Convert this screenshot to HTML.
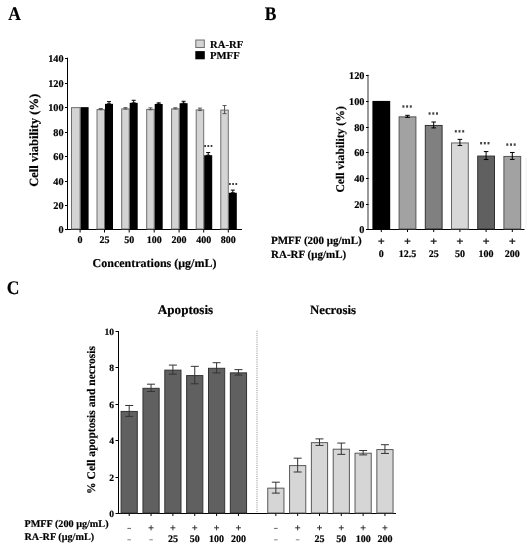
<!DOCTYPE html>
<html><head><meta charset="utf-8"><style>
html,body{margin:0;padding:0;background:#fff;}
body{width:531px;height:550px;overflow:hidden;}
svg{display:block;font-family:"Liberation Serif", serif;text-rendering:geometricPrecision;}
text{stroke:#000;stroke-width:0.18px;}
</style></head><body>
<svg width="531" height="550" viewBox="0 0 531 550">
<defs><filter id="bl" filterUnits="userSpaceOnUse" x="0" y="0" width="531" height="550"><feGaussianBlur stdDeviation="0.3"/></filter></defs>
<rect width="531" height="550" fill="#fff"/>
<g filter="url(#bl)">
<text transform="translate(8.2 19.9) scale(1 1.1)" font-size="17.5" font-weight="bold">A</text>
<text transform="translate(264.8 19.9) scale(1 1.1)" font-size="17.5" font-weight="bold">B</text>
<text transform="translate(6.8 294.2) scale(1 1.1)" font-size="17.5" font-weight="bold">C</text>
<line x1="67.5" y1="57.696" x2="67.5" y2="230.0" stroke="#000" stroke-width="1"/>
<line x1="65" y1="229.5" x2="242" y2="229.5" stroke="#000" stroke-width="1"/>
<line x1="65" y1="229.5" x2="67.5" y2="229.5" stroke="#000" stroke-width="1"/>
<text x="63.6" y="233.2" font-size="10.3" font-weight="bold" text-anchor="end" fill="#000">0</text>
<line x1="65" y1="205.5" x2="67.5" y2="205.5" stroke="#000" stroke-width="1"/>
<text x="63.6" y="209.2" font-size="10.3" font-weight="bold" text-anchor="end" fill="#000">20</text>
<line x1="65" y1="181.5" x2="67.5" y2="181.5" stroke="#000" stroke-width="1"/>
<text x="63.6" y="185.2" font-size="10.3" font-weight="bold" text-anchor="end" fill="#000">40</text>
<line x1="65" y1="156.5" x2="67.5" y2="156.5" stroke="#000" stroke-width="1"/>
<text x="63.6" y="160.2" font-size="10.3" font-weight="bold" text-anchor="end" fill="#000">60</text>
<line x1="65" y1="132.5" x2="67.5" y2="132.5" stroke="#000" stroke-width="1"/>
<text x="63.6" y="136.2" font-size="10.3" font-weight="bold" text-anchor="end" fill="#000">80</text>
<line x1="65" y1="107.5" x2="67.5" y2="107.5" stroke="#000" stroke-width="1"/>
<text x="63.6" y="111.2" font-size="10.3" font-weight="bold" text-anchor="end" fill="#000">100</text>
<line x1="65" y1="83.5" x2="67.5" y2="83.5" stroke="#000" stroke-width="1"/>
<text x="63.6" y="87.2" font-size="10.3" font-weight="bold" text-anchor="end" fill="#000">120</text>
<line x1="65" y1="58.5" x2="67.5" y2="58.5" stroke="#000" stroke-width="1"/>
<text x="63.6" y="62.2" font-size="10.3" font-weight="bold" text-anchor="end" fill="#000">140</text>
<rect x="71.5" y="107.64" width="8.6" height="121.36" fill="#d4d4d4" stroke="#6e6e6e" stroke-width="1"/>
<rect x="80.6" y="107.14" width="8" height="122.36" fill="#000"/>
<line x1="80.1" y1="229.5" x2="80.1" y2="232.5" stroke="#000" stroke-width="1"/>
<text x="80.1" y="243" font-size="10" font-weight="bold" text-anchor="middle" fill="#000">0</text>
<rect x="97.0" y="109.59776" width="7.5" height="119.40224" fill="#d4d4d4" stroke="#6e6e6e" stroke-width="1"/>
<rect x="105.0" y="103.83627999999999" width="8" height="125.66372000000001" fill="#000"/>
<line x1="100.75" y1="108.48595999999999" x2="100.75" y2="109.70956" stroke="#555" stroke-width="1"/>
<line x1="98.75" y1="108.48595999999999" x2="102.75" y2="108.48595999999999" stroke="#555" stroke-width="1"/>
<line x1="98.75" y1="109.70956" x2="102.75" y2="109.70956" stroke="#555" stroke-width="1"/>
<line x1="109.0" y1="101.6338" x2="109.0" y2="103.83627999999999" stroke="#000" stroke-width="1"/>
<line x1="107.0" y1="101.6338" x2="111.0" y2="101.6338" stroke="#000" stroke-width="1"/>
<line x1="107.0" y1="103.83627999999999" x2="111.0" y2="103.83627999999999" stroke="#000" stroke-width="1"/>
<line x1="104.5" y1="229.5" x2="104.5" y2="232.5" stroke="#000" stroke-width="1"/>
<text x="104.5" y="243" font-size="10" font-weight="bold" text-anchor="middle" fill="#000">25</text>
<rect x="121.69999999999999" y="108.86359999999999" width="7.5" height="120.13640000000001" fill="#d4d4d4" stroke="#6e6e6e" stroke-width="1"/>
<rect x="129.7" y="102.8574" width="8" height="126.6426" fill="#000"/>
<line x1="125.44999999999999" y1="107.62944" x2="125.44999999999999" y2="109.09776" stroke="#555" stroke-width="1"/>
<line x1="123.44999999999999" y1="107.62944" x2="127.44999999999999" y2="107.62944" stroke="#555" stroke-width="1"/>
<line x1="123.44999999999999" y1="109.09776" x2="127.44999999999999" y2="109.09776" stroke="#555" stroke-width="1"/>
<line x1="133.7" y1="100.28784000000002" x2="133.7" y2="102.8574" stroke="#000" stroke-width="1"/>
<line x1="131.7" y1="100.28784000000002" x2="135.7" y2="100.28784000000002" stroke="#000" stroke-width="1"/>
<line x1="131.7" y1="102.8574" x2="135.7" y2="102.8574" stroke="#000" stroke-width="1"/>
<line x1="129.2" y1="229.5" x2="129.2" y2="232.5" stroke="#000" stroke-width="1"/>
<text x="129.2" y="243" font-size="10" font-weight="bold" text-anchor="middle" fill="#000">50</text>
<rect x="146.7" y="109.35304000000001" width="7.5" height="119.64695999999999" fill="#d4d4d4" stroke="#6e6e6e" stroke-width="1"/>
<rect x="154.7" y="103.95864" width="8" height="125.54136" fill="#000"/>
<line x1="150.45" y1="107.87416" x2="150.45" y2="109.83192" stroke="#555" stroke-width="1"/>
<line x1="148.45" y1="107.87416" x2="152.45" y2="107.87416" stroke="#555" stroke-width="1"/>
<line x1="148.45" y1="109.83192" x2="152.45" y2="109.83192" stroke="#555" stroke-width="1"/>
<line x1="158.7" y1="102.8574" x2="158.7" y2="103.95864" stroke="#000" stroke-width="1"/>
<line x1="156.7" y1="102.8574" x2="160.7" y2="102.8574" stroke="#000" stroke-width="1"/>
<line x1="156.7" y1="103.95864" x2="160.7" y2="103.95864" stroke="#000" stroke-width="1"/>
<line x1="154.2" y1="229.5" x2="154.2" y2="232.5" stroke="#000" stroke-width="1"/>
<text x="154.2" y="243" font-size="10" font-weight="bold" text-anchor="middle" fill="#000">100</text>
<rect x="171.6" y="108.86359999999999" width="7.5" height="120.13640000000001" fill="#d4d4d4" stroke="#6e6e6e" stroke-width="1"/>
<rect x="179.6" y="103.22448" width="8" height="126.27552" fill="#000"/>
<line x1="175.35" y1="107.7518" x2="175.35" y2="108.9754" stroke="#555" stroke-width="1"/>
<line x1="173.35" y1="107.7518" x2="177.35" y2="107.7518" stroke="#555" stroke-width="1"/>
<line x1="173.35" y1="108.9754" x2="177.35" y2="108.9754" stroke="#555" stroke-width="1"/>
<line x1="183.6" y1="101.26671999999999" x2="183.6" y2="103.22448" stroke="#000" stroke-width="1"/>
<line x1="181.6" y1="101.26671999999999" x2="185.6" y2="101.26671999999999" stroke="#000" stroke-width="1"/>
<line x1="181.6" y1="103.22448" x2="185.6" y2="103.22448" stroke="#000" stroke-width="1"/>
<line x1="179.1" y1="229.5" x2="179.1" y2="232.5" stroke="#000" stroke-width="1"/>
<text x="179.1" y="243" font-size="10" font-weight="bold" text-anchor="middle" fill="#000">200</text>
<rect x="196.2" y="109.84248" width="7.5" height="119.15752" fill="#d4d4d4" stroke="#6e6e6e" stroke-width="1"/>
<rect x="204.2" y="155.22748" width="8" height="74.27251999999999" fill="#000"/>
<line x1="199.95" y1="108.11887999999999" x2="199.95" y2="110.56608" stroke="#555" stroke-width="1"/>
<line x1="197.95" y1="108.11887999999999" x2="201.95" y2="108.11887999999999" stroke="#555" stroke-width="1"/>
<line x1="197.95" y1="110.56608" x2="201.95" y2="110.56608" stroke="#555" stroke-width="1"/>
<line x1="208.2" y1="152.53555999999998" x2="208.2" y2="155.22748" stroke="#000" stroke-width="1"/>
<line x1="206.2" y1="152.53555999999998" x2="210.2" y2="152.53555999999998" stroke="#000" stroke-width="1"/>
<line x1="206.2" y1="155.22748" x2="210.2" y2="155.22748" stroke="#000" stroke-width="1"/>
<line x1="203.7" y1="229.5" x2="203.7" y2="232.5" stroke="#000" stroke-width="1"/>
<text x="203.7" y="243" font-size="10" font-weight="bold" text-anchor="middle" fill="#000">400</text>
<rect x="220.8" y="110.0872" width="7.5" height="118.9128" fill="#d4d4d4" stroke="#6e6e6e" stroke-width="1"/>
<rect x="228.8" y="192.792" width="8" height="36.708" fill="#000"/>
<line x1="224.55" y1="105.54932" x2="224.55" y2="113.62508" stroke="#555" stroke-width="1"/>
<line x1="222.55" y1="105.54932" x2="226.55" y2="105.54932" stroke="#555" stroke-width="1"/>
<line x1="222.55" y1="113.62508" x2="226.55" y2="113.62508" stroke="#555" stroke-width="1"/>
<line x1="232.8" y1="190.10008" x2="232.8" y2="192.792" stroke="#000" stroke-width="1"/>
<line x1="230.8" y1="190.10008" x2="234.8" y2="190.10008" stroke="#000" stroke-width="1"/>
<line x1="230.8" y1="192.792" x2="234.8" y2="192.792" stroke="#000" stroke-width="1"/>
<line x1="228.3" y1="229.5" x2="228.3" y2="232.5" stroke="#000" stroke-width="1"/>
<text x="228.3" y="243" font-size="10" font-weight="bold" text-anchor="middle" fill="#000">800</text>
<rect x="204.25000000000003" y="145.0" width="1.7" height="2" fill="#3a3a3a"/>
<rect x="207.45000000000002" y="145.0" width="1.7" height="2" fill="#3a3a3a"/>
<rect x="210.65" y="145.0" width="1.7" height="2" fill="#3a3a3a"/>
<rect x="229.05" y="183.0" width="1.7" height="2" fill="#3a3a3a"/>
<rect x="232.25" y="183.0" width="1.7" height="2" fill="#3a3a3a"/>
<rect x="235.45" y="183.0" width="1.7" height="2" fill="#3a3a3a"/>
<text x="154.5" y="266.5" font-size="12" font-weight="bold" text-anchor="middle" fill="#000">Concentrations (μg/mL)</text>
<text x="37.8" y="140.3" font-size="12.6" font-weight="bold" text-anchor="middle" fill="#000" transform="rotate(-90 37.8 140.3)">Cell viability (%)</text>
<rect x="195.8" y="40.0" width="8.5" height="7.5" fill="#d4d4d4" stroke="#6e6e6e" stroke-width="1"/>
<rect x="195.3" y="51.1" width="9.5" height="8.2" fill="#000"/>
<text x="210" y="47.8" font-size="10.7" font-weight="bold" text-anchor="start" fill="#000">RA-RF</text>
<text x="210" y="58.7" font-size="10.7" font-weight="bold" text-anchor="start" fill="#000">PMFF</text>
<line x1="368" y1="74.70400000000001" x2="368" y2="230.0" stroke="#888" stroke-width="1.7"/>
<line x1="366" y1="229.5" x2="524.5" y2="229.5" stroke="#000" stroke-width="1"/>
<line x1="366" y1="229.5" x2="368.5" y2="229.5" stroke="#000" stroke-width="1"/>
<text x="364.5" y="233.2" font-size="10.3" font-weight="bold" text-anchor="end" fill="#000">0</text>
<line x1="366" y1="204.5" x2="368.5" y2="204.5" stroke="#000" stroke-width="1"/>
<text x="364.5" y="208.2" font-size="10.3" font-weight="bold" text-anchor="end" fill="#000">20</text>
<line x1="366" y1="178.5" x2="368.5" y2="178.5" stroke="#000" stroke-width="1"/>
<text x="364.5" y="182.2" font-size="10.3" font-weight="bold" text-anchor="end" fill="#000">40</text>
<line x1="366" y1="152.5" x2="368.5" y2="152.5" stroke="#000" stroke-width="1"/>
<text x="364.5" y="156.2" font-size="10.3" font-weight="bold" text-anchor="end" fill="#000">60</text>
<line x1="366" y1="127.5" x2="368.5" y2="127.5" stroke="#000" stroke-width="1"/>
<text x="364.5" y="131.2" font-size="10.3" font-weight="bold" text-anchor="end" fill="#000">80</text>
<line x1="366" y1="101.5" x2="368.5" y2="101.5" stroke="#000" stroke-width="1"/>
<text x="364.5" y="105.2" font-size="10.3" font-weight="bold" text-anchor="end" fill="#000">100</text>
<line x1="366" y1="75.5" x2="368.5" y2="75.5" stroke="#000" stroke-width="1"/>
<text x="364.5" y="79.2" font-size="10.3" font-weight="bold" text-anchor="end" fill="#000">120</text>
<rect x="372.4" y="100.91999999999999" width="17.8" height="128.58" fill="#000"/>
<line x1="381.29999999999995" y1="229.5" x2="381.29999999999995" y2="232.0" stroke="#000" stroke-width="1"/>
<path d="M378.29999999999995 241.2H384.29999999999995M381.29999999999995 238.5V243.89999999999998" stroke="#222" stroke-width="1.25" fill="none"/>
<text x="381.29999999999995" y="257" font-size="10" font-weight="bold" text-anchor="middle" fill="#000">0</text>
<rect x="399.09999999999997" y="116.8496" width="16.8" height="112.1504" fill="#a2a2a2" stroke="#555" stroke-width="1"/>
<line x1="407.49999999999994" y1="115.32096" x2="407.49999999999994" y2="117.37823999999999" stroke="#000" stroke-width="1"/>
<line x1="405.19999999999993" y1="115.32096" x2="409.79999999999995" y2="115.32096" stroke="#000" stroke-width="1"/>
<line x1="405.19999999999993" y1="117.37823999999999" x2="409.79999999999995" y2="117.37823999999999" stroke="#000" stroke-width="1"/>
<rect x="402.4" y="105.3" width="2.0" height="2.4" fill="#444"/>
<rect x="406.09999999999997" y="105.3" width="2.0" height="2.4" fill="#444"/>
<rect x="409.79999999999995" y="105.3" width="2.0" height="2.4" fill="#444"/>
<line x1="407.49999999999994" y1="229.5" x2="407.49999999999994" y2="232.0" stroke="#000" stroke-width="1"/>
<path d="M404.49999999999994 241.2H410.49999999999994M407.49999999999994 238.5V243.89999999999998" stroke="#222" stroke-width="1.25" fill="none"/>
<text x="407.49999999999994" y="257" font-size="10" font-weight="bold" text-anchor="middle" fill="#000">12.5</text>
<rect x="425.29999999999995" y="125.46446" width="16.8" height="103.53554" fill="#808080" stroke="#333" stroke-width="1"/>
<line x1="433.69999999999993" y1="122.00712" x2="433.69999999999993" y2="127.92179999999999" stroke="#000" stroke-width="1"/>
<line x1="431.3999999999999" y1="122.00712" x2="435.99999999999994" y2="122.00712" stroke="#000" stroke-width="1"/>
<line x1="431.3999999999999" y1="127.92179999999999" x2="435.99999999999994" y2="127.92179999999999" stroke="#000" stroke-width="1"/>
<rect x="428.59999999999997" y="112.3" width="2.0" height="2.4" fill="#444"/>
<rect x="432.29999999999995" y="112.3" width="2.0" height="2.4" fill="#444"/>
<rect x="435.99999999999994" y="112.3" width="2.0" height="2.4" fill="#444"/>
<line x1="433.69999999999993" y1="229.5" x2="433.69999999999993" y2="232.0" stroke="#000" stroke-width="1"/>
<path d="M430.69999999999993 241.2H436.69999999999993M433.69999999999993 238.5V243.89999999999998" stroke="#222" stroke-width="1.25" fill="none"/>
<text x="433.69999999999993" y="257" font-size="10" font-weight="bold" text-anchor="middle" fill="#000">25</text>
<rect x="451.5" y="142.95134" width="16.8" height="86.04866000000001" fill="#d8d8d8" stroke="#666" stroke-width="1"/>
<line x1="459.9" y1="139.36541999999997" x2="459.9" y2="145.53726" stroke="#000" stroke-width="1"/>
<line x1="457.59999999999997" y1="139.36541999999997" x2="462.2" y2="139.36541999999997" stroke="#000" stroke-width="1"/>
<line x1="457.59999999999997" y1="145.53726" x2="462.2" y2="145.53726" stroke="#000" stroke-width="1"/>
<rect x="454.8" y="130.10000000000002" width="2.0" height="2.4" fill="#444"/>
<rect x="458.5" y="130.10000000000002" width="2.0" height="2.4" fill="#444"/>
<rect x="462.2" y="130.10000000000002" width="2.0" height="2.4" fill="#444"/>
<line x1="459.9" y1="229.5" x2="459.9" y2="232.0" stroke="#000" stroke-width="1"/>
<path d="M456.9 241.2H462.9M459.9 238.5V243.89999999999998" stroke="#222" stroke-width="1.25" fill="none"/>
<text x="459.9" y="257" font-size="10" font-weight="bold" text-anchor="middle" fill="#000">50</text>
<rect x="477.7" y="156.0665" width="16.8" height="72.93350000000001" fill="#606060" stroke="#333" stroke-width="1"/>
<line x1="486.09999999999997" y1="151.58051999999998" x2="486.09999999999997" y2="159.55248" stroke="#000" stroke-width="1"/>
<line x1="483.79999999999995" y1="151.58051999999998" x2="488.4" y2="151.58051999999998" stroke="#000" stroke-width="1"/>
<line x1="483.79999999999995" y1="159.55248" x2="488.4" y2="159.55248" stroke="#000" stroke-width="1"/>
<rect x="480.1" y="142.0" width="2.0" height="2.4" fill="#444"/>
<rect x="483.8" y="142.0" width="2.0" height="2.4" fill="#444"/>
<rect x="487.5" y="142.0" width="2.0" height="2.4" fill="#444"/>
<line x1="486.09999999999997" y1="229.5" x2="486.09999999999997" y2="232.0" stroke="#000" stroke-width="1"/>
<path d="M483.09999999999997 241.2H489.09999999999997M486.09999999999997 238.5V243.89999999999998" stroke="#222" stroke-width="1.25" fill="none"/>
<text x="486.09999999999997" y="257" font-size="10" font-weight="bold" text-anchor="middle" fill="#000">100</text>
<rect x="503.9" y="156.45224" width="16.8" height="72.54776000000001" fill="#a2a2a2" stroke="#555" stroke-width="1"/>
<line x1="512.3" y1="152.48057999999997" x2="512.3" y2="159.4239" stroke="#000" stroke-width="1"/>
<line x1="509.99999999999994" y1="152.48057999999997" x2="514.5999999999999" y2="152.48057999999997" stroke="#000" stroke-width="1"/>
<line x1="509.99999999999994" y1="159.4239" x2="514.5999999999999" y2="159.4239" stroke="#000" stroke-width="1"/>
<rect x="506.3" y="143.4" width="2.0" height="2.4" fill="#444"/>
<rect x="510.0" y="143.4" width="2.0" height="2.4" fill="#444"/>
<rect x="513.7" y="143.4" width="2.0" height="2.4" fill="#444"/>
<line x1="512.3" y1="229.5" x2="512.3" y2="232.0" stroke="#000" stroke-width="1"/>
<path d="M509.29999999999995 241.2H515.3M512.3 238.5V243.89999999999998" stroke="#222" stroke-width="1.25" fill="none"/>
<text x="512.3" y="257" font-size="10" font-weight="bold" text-anchor="middle" fill="#000">200</text>
<text x="271" y="244.3" font-size="11" font-weight="bold" text-anchor="start" fill="#000">PMFF (200 μg/mL)</text>
<text x="271" y="258.1" font-size="11" font-weight="bold" text-anchor="start" fill="#000">RA-RF (μg/mL)</text>
<text x="343.9" y="149.4" font-size="11.7" font-weight="bold" text-anchor="middle" fill="#000" transform="rotate(-90 343.9 149.4)">Cell viability (%)</text>
<line x1="118.5" y1="331.0" x2="118.5" y2="514.0" stroke="#000" stroke-width="1"/>
<line x1="116" y1="513.5" x2="396" y2="513.5" stroke="#000" stroke-width="1"/>
<line x1="115.5" y1="513.5" x2="118.5" y2="513.5" stroke="#000" stroke-width="1"/>
<text x="114" y="516.7" font-size="9.6" font-weight="bold" text-anchor="end" fill="#000">0</text>
<line x1="115.5" y1="477.5" x2="118.5" y2="477.5" stroke="#000" stroke-width="1"/>
<text x="114" y="480.7" font-size="9.6" font-weight="bold" text-anchor="end" fill="#000">2</text>
<line x1="115.5" y1="440.5" x2="118.5" y2="440.5" stroke="#000" stroke-width="1"/>
<text x="114" y="443.7" font-size="9.6" font-weight="bold" text-anchor="end" fill="#000">4</text>
<line x1="115.5" y1="404.5" x2="118.5" y2="404.5" stroke="#000" stroke-width="1"/>
<text x="114" y="407.7" font-size="9.6" font-weight="bold" text-anchor="end" fill="#000">6</text>
<line x1="115.5" y1="367.5" x2="118.5" y2="367.5" stroke="#000" stroke-width="1"/>
<text x="114" y="370.7" font-size="9.6" font-weight="bold" text-anchor="end" fill="#000">8</text>
<line x1="115.5" y1="331.5" x2="118.5" y2="331.5" stroke="#000" stroke-width="1"/>
<text x="114" y="334.7" font-size="9.6" font-weight="bold" text-anchor="end" fill="#000">10</text>
<rect x="121.1" y="411.443" width="16.2" height="101.55700000000002" fill="#606060" stroke="#333" stroke-width="1"/>
<line x1="129.2" y1="405.483" x2="129.2" y2="416.403" stroke="#333" stroke-width="1"/>
<line x1="125.19999999999999" y1="405.483" x2="133.2" y2="405.483" stroke="#333" stroke-width="1"/>
<line x1="125.19999999999999" y1="416.403" x2="133.2" y2="416.403" stroke="#333" stroke-width="1"/>
<line x1="129.2" y1="513.5" x2="129.2" y2="516.0" stroke="#000" stroke-width="1"/>
<line x1="127.39999999999999" y1="528.4" x2="131.0" y2="528.4" stroke="#555" stroke-width="0.9"/>
<line x1="127.39999999999999" y1="539.8" x2="131.0" y2="539.8" stroke="#777" stroke-width="0.9"/>
<rect x="142.95" y="388.329" width="16.2" height="124.67099999999999" fill="#606060" stroke="#333" stroke-width="1"/>
<line x1="151.04999999999998" y1="384.18899999999996" x2="151.04999999999998" y2="391.469" stroke="#333" stroke-width="1"/>
<line x1="147.04999999999998" y1="384.18899999999996" x2="155.04999999999998" y2="384.18899999999996" stroke="#333" stroke-width="1"/>
<line x1="147.04999999999998" y1="391.469" x2="155.04999999999998" y2="391.469" stroke="#333" stroke-width="1"/>
<line x1="151.04999999999998" y1="513.5" x2="151.04999999999998" y2="516.0" stroke="#000" stroke-width="1"/>
<path d="M148.54999999999998 527.8H153.54999999999998M151.04999999999998 525.3V530.3" stroke="#333" stroke-width="1.0" fill="none"/>
<line x1="149.24999999999997" y1="539.8" x2="152.85" y2="539.8" stroke="#777" stroke-width="0.9"/>
<rect x="164.79999999999998" y="370.129" width="16.2" height="142.87099999999998" fill="#606060" stroke="#333" stroke-width="1"/>
<line x1="172.89999999999998" y1="365.07899999999995" x2="172.89999999999998" y2="374.179" stroke="#333" stroke-width="1"/>
<line x1="168.89999999999998" y1="365.07899999999995" x2="176.89999999999998" y2="365.07899999999995" stroke="#333" stroke-width="1"/>
<line x1="168.89999999999998" y1="374.179" x2="176.89999999999998" y2="374.179" stroke="#333" stroke-width="1"/>
<line x1="172.89999999999998" y1="513.5" x2="172.89999999999998" y2="516.0" stroke="#000" stroke-width="1"/>
<path d="M170.39999999999998 527.8H175.39999999999998M172.89999999999998 525.3V530.3" stroke="#333" stroke-width="1.0" fill="none"/>
<text x="172.89999999999998" y="541.8" font-size="10" font-weight="bold" text-anchor="middle" fill="#000">25</text>
<rect x="186.65" y="375.589" width="16.2" height="137.411" fill="#606060" stroke="#333" stroke-width="1"/>
<line x1="194.75" y1="366.35299999999995" x2="194.75" y2="383.82500000000005" stroke="#333" stroke-width="1"/>
<line x1="190.75" y1="366.35299999999995" x2="198.75" y2="366.35299999999995" stroke="#333" stroke-width="1"/>
<line x1="190.75" y1="383.82500000000005" x2="198.75" y2="383.82500000000005" stroke="#333" stroke-width="1"/>
<line x1="194.75" y1="513.5" x2="194.75" y2="516.0" stroke="#000" stroke-width="1"/>
<path d="M192.25 527.8H197.25M194.75 525.3V530.3" stroke="#333" stroke-width="1.0" fill="none"/>
<text x="194.75" y="541.8" font-size="10" font-weight="bold" text-anchor="middle" fill="#000">50</text>
<rect x="208.5" y="368.309" width="16.2" height="144.69099999999997" fill="#606060" stroke="#333" stroke-width="1"/>
<line x1="216.6" y1="362.713" x2="216.6" y2="372.90500000000003" stroke="#333" stroke-width="1"/>
<line x1="212.6" y1="362.713" x2="220.6" y2="362.713" stroke="#333" stroke-width="1"/>
<line x1="212.6" y1="372.90500000000003" x2="220.6" y2="372.90500000000003" stroke="#333" stroke-width="1"/>
<line x1="216.6" y1="513.5" x2="216.6" y2="516.0" stroke="#000" stroke-width="1"/>
<path d="M214.1 527.8H219.1M216.6 525.3V530.3" stroke="#333" stroke-width="1.0" fill="none"/>
<text x="216.6" y="541.8" font-size="10" font-weight="bold" text-anchor="middle" fill="#000">100</text>
<rect x="230.35" y="372.85900000000004" width="16.2" height="140.14099999999996" fill="#606060" stroke="#333" stroke-width="1"/>
<line x1="238.45" y1="369.629" x2="238.45" y2="375.08900000000006" stroke="#333" stroke-width="1"/>
<line x1="234.45" y1="369.629" x2="242.45" y2="369.629" stroke="#333" stroke-width="1"/>
<line x1="234.45" y1="375.08900000000006" x2="242.45" y2="375.08900000000006" stroke="#333" stroke-width="1"/>
<line x1="238.45" y1="513.5" x2="238.45" y2="516.0" stroke="#000" stroke-width="1"/>
<path d="M235.95 527.8H240.95M238.45 525.3V530.3" stroke="#333" stroke-width="1.0" fill="none"/>
<text x="238.45" y="541.8" font-size="10" font-weight="bold" text-anchor="middle" fill="#000">200</text>
<rect x="267.75" y="488.156" width="16.2" height="24.843999999999994" fill="#d6d6d6" stroke="#5a5a5a" stroke-width="1"/>
<line x1="275.85" y1="482.196" x2="275.85" y2="493.116" stroke="#333" stroke-width="1"/>
<line x1="271.85" y1="482.196" x2="279.85" y2="482.196" stroke="#333" stroke-width="1"/>
<line x1="271.85" y1="493.116" x2="279.85" y2="493.116" stroke="#333" stroke-width="1"/>
<line x1="275.85" y1="513.5" x2="275.85" y2="516.0" stroke="#000" stroke-width="1"/>
<line x1="274.05" y1="528.4" x2="277.65000000000003" y2="528.4" stroke="#555" stroke-width="0.9"/>
<line x1="274.05" y1="539.8" x2="277.65000000000003" y2="539.8" stroke="#777" stroke-width="0.9"/>
<rect x="289.57" y="465.588" width="16.2" height="47.41199999999998" fill="#d6d6d6" stroke="#5a5a5a" stroke-width="1"/>
<line x1="297.67" y1="458.172" x2="297.67" y2="472.004" stroke="#333" stroke-width="1"/>
<line x1="293.67" y1="458.172" x2="301.67" y2="458.172" stroke="#333" stroke-width="1"/>
<line x1="293.67" y1="472.004" x2="301.67" y2="472.004" stroke="#333" stroke-width="1"/>
<line x1="297.67" y1="513.5" x2="297.67" y2="516.0" stroke="#000" stroke-width="1"/>
<path d="M295.17 527.8H300.17M297.67 525.3V530.3" stroke="#333" stroke-width="1.0" fill="none"/>
<line x1="295.87" y1="539.8" x2="299.47" y2="539.8" stroke="#777" stroke-width="0.9"/>
<rect x="311.39" y="442.656" width="16.2" height="70.344" fill="#d6d6d6" stroke="#5a5a5a" stroke-width="1"/>
<line x1="319.49" y1="438.88" x2="319.49" y2="445.432" stroke="#333" stroke-width="1"/>
<line x1="315.49" y1="438.88" x2="323.49" y2="438.88" stroke="#333" stroke-width="1"/>
<line x1="315.49" y1="445.432" x2="323.49" y2="445.432" stroke="#333" stroke-width="1"/>
<line x1="319.49" y1="513.5" x2="319.49" y2="516.0" stroke="#000" stroke-width="1"/>
<path d="M316.99 527.8H321.99M319.49 525.3V530.3" stroke="#333" stroke-width="1.0" fill="none"/>
<text x="319.49" y="541.8" font-size="10" font-weight="bold" text-anchor="middle" fill="#000">25</text>
<rect x="333.21000000000004" y="449.20799999999997" width="16.2" height="63.79200000000003" fill="#d6d6d6" stroke="#5a5a5a" stroke-width="1"/>
<line x1="341.31000000000006" y1="443.06600000000003" x2="341.31000000000006" y2="454.35" stroke="#333" stroke-width="1"/>
<line x1="337.31000000000006" y1="443.06600000000003" x2="345.31000000000006" y2="443.06600000000003" stroke="#333" stroke-width="1"/>
<line x1="337.31000000000006" y1="454.35" x2="345.31000000000006" y2="454.35" stroke="#333" stroke-width="1"/>
<line x1="341.31000000000006" y1="513.5" x2="341.31000000000006" y2="516.0" stroke="#000" stroke-width="1"/>
<path d="M338.81000000000006 527.8H343.81000000000006M341.31000000000006 525.3V530.3" stroke="#333" stroke-width="1.0" fill="none"/>
<text x="341.31000000000006" y="541.8" font-size="10" font-weight="bold" text-anchor="middle" fill="#000">50</text>
<rect x="355.03" y="453.212" width="16.2" height="59.78800000000001" fill="#d6d6d6" stroke="#5a5a5a" stroke-width="1"/>
<line x1="363.13" y1="450.528" x2="363.13" y2="454.896" stroke="#333" stroke-width="1"/>
<line x1="359.13" y1="450.528" x2="367.13" y2="450.528" stroke="#333" stroke-width="1"/>
<line x1="359.13" y1="454.896" x2="367.13" y2="454.896" stroke="#333" stroke-width="1"/>
<line x1="363.13" y1="513.5" x2="363.13" y2="516.0" stroke="#000" stroke-width="1"/>
<path d="M360.63 527.8H365.63M363.13 525.3V530.3" stroke="#333" stroke-width="1.0" fill="none"/>
<text x="363.13" y="541.8" font-size="10" font-weight="bold" text-anchor="middle" fill="#000">100</text>
<rect x="376.85" y="449.572" width="16.2" height="63.428" fill="#d6d6d6" stroke="#5a5a5a" stroke-width="1"/>
<line x1="384.95000000000005" y1="444.704" x2="384.95000000000005" y2="453.44" stroke="#333" stroke-width="1"/>
<line x1="380.95000000000005" y1="444.704" x2="388.95000000000005" y2="444.704" stroke="#333" stroke-width="1"/>
<line x1="380.95000000000005" y1="453.44" x2="388.95000000000005" y2="453.44" stroke="#333" stroke-width="1"/>
<line x1="384.95000000000005" y1="513.5" x2="384.95000000000005" y2="516.0" stroke="#000" stroke-width="1"/>
<path d="M382.45000000000005 527.8H387.45000000000005M384.95000000000005 525.3V530.3" stroke="#333" stroke-width="1.0" fill="none"/>
<text x="384.95000000000005" y="541.8" font-size="10" font-weight="bold" text-anchor="middle" fill="#000">200</text>
<line x1="526" y1="158" x2="526" y2="229" stroke="#eeeeee" stroke-width="1"/>
<line x1="257" y1="330.7" x2="257" y2="513" stroke="#888" stroke-width="1" stroke-dasharray="1 1.2"/>
<text x="185.5" y="313.8" font-size="13.1" font-weight="bold" text-anchor="middle" fill="#000">Apoptosis</text>
<text x="333" y="313.8" font-size="12.8" font-weight="bold" text-anchor="middle" fill="#000">Necrosis</text>
<text x="24.5" y="527.3" font-size="10.2" font-weight="bold" text-anchor="start" fill="#000">PMFF (200 μg/mL)</text>
<text x="24.5" y="540.1" font-size="10.2" font-weight="bold" text-anchor="start" fill="#000">RA-RF (μg/mL)</text>
<text x="94.8" y="420" font-size="11.6" font-weight="bold" text-anchor="middle" fill="#000" transform="rotate(-90 94.8 420)">% Cell apoptosis and necrosis</text>
</g>
</svg>
</body></html>
